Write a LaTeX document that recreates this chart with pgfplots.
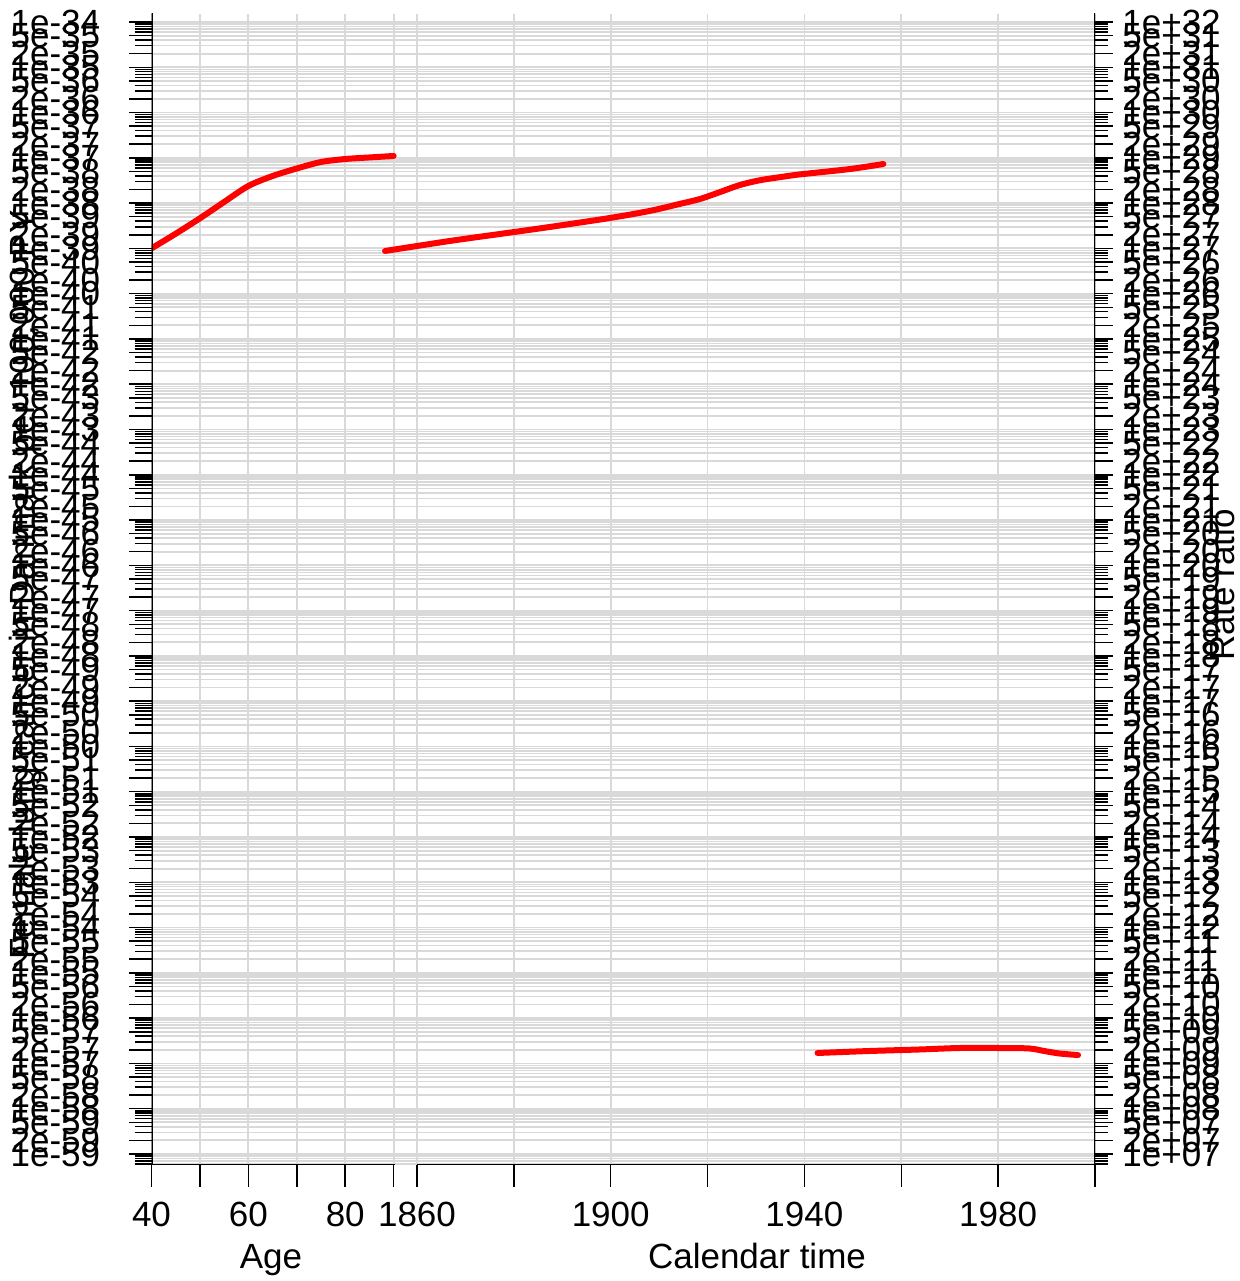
\documentclass[border=0pt]{standalone}
\usepackage{fontspec}
\setmainfont{Liberation Sans}
\usepackage{pgfplots}
\pgfplotsset{compat=1.18}
\pgfplotsset{set layers}

% tick lists (1,2,5 per decade labelled; 3,4,6,7,8,9 minor)
\def\Ymaj{1e-34}\def\Ylab{1e-34}\def\Rmaj{1e32}\def\Rlab{1e+32}
\def\Ymn{9e-60,8e-60,7e-60,6e-60}\def\Rmn{9e6,8e6,7e6,6e6}
\foreach \k in {35,...,59}{%
  \pgfmathtruncatemacro\rx{66-\k}%
  \ifnum\rx<10 \xdef\rr{0\rx}\else\xdef\rr{\rx}\fi
  \xdef\Ymaj{\Ymaj,5e-\k,2e-\k,1e-\k}%
  \xdef\Ylab{\Ylab,5e-\k,2e-\k,1e-\k}%
  \xdef\Ymn{\Ymn,9e-\k,8e-\k,7e-\k,6e-\k,4e-\k,3e-\k}%
  \xdef\Rmaj{\Rmaj,5e\rx,2e\rx,1e\rx}%
  \xdef\Rlab{\Rlab,5e+\rr,2e+\rr,1e+\rr}%
  \xdef\Rmn{\Rmn,9e\rx,8e\rx,7e\rx,6e\rx,4e\rx,3e\rx}%
}

\begin{document}
\begin{tikzpicture}
\path (0,0) rectangle (619.5pt,640.5pt);

% Age axis (left scale: rates)
\begin{axis}[
  ymode=log, log basis y=10,
  at={(75.75pt,58pt)}, anchor=south west, scale only axis,
  width=471.75pt, height=575.5pt,
  axis line style={draw=none},
  tick align=outside,
  tick style={black, line width=0.75pt},
  major tick length=11pt, minor tick length=8.5pt,
  tick label style={font=\fontsize{17.5}{20}\selectfont},
  major grid style={draw=gray!30, line width=0.9pt},
  minor grid style={draw=gray!30, line width=0.8pt},
  xticklabel style={anchor=base, inner sep=0pt, yshift=-20pt},
  xmin=40, xmax=234.82, ymin=5.71e-60, ymax=1.503e-34,
  xtick={40,50,60,70,80,90}, xticklabels={40,,60,,80,},
  xtick pos=left, ytick pos=left,
  ytick/.expanded=\Ymaj, yticklabels/.expanded=\Ylab,
  minor ytick/.expanded=\Ymn,
  xmajorgrids, ymajorgrids, yminorgrids,
  yticklabel style={anchor=east, inner sep=0pt, xshift=-14.5pt},
]
\addplot[red, line width=3pt, smooth, line cap=round] coordinates {
 (40,1.00e-39) (45,2.11e-39) (50,4.62e-39) (55,1.06e-38) (60,2.39e-38)
 (65,3.97e-38) (70,5.82e-38) (75,8.09e-38) (80,9.42e-38) (85,1.02e-37) (90,1.10e-37)
};
\draw[line width=1pt, line cap=rect] (rel axis cs:0,0) -- (rel axis cs:0,1);
\draw[line width=1pt, line cap=rect] (axis cs:40,5.71e-60) -- (axis cs:90,5.71e-60);
\end{axis}

% Calendar time axis (left scale: cohort)
\begin{axis}[
  ymode=log, log basis y=10,
  at={(75.75pt,58pt)}, anchor=south west, scale only axis,
  width=471.75pt, height=575.5pt,
  axis line style={draw=none},
  tick align=outside,
  tick style={black, line width=0.75pt},
  major tick length=11pt, minor tick length=8.5pt,
  tick label style={font=\fontsize{17.5}{20}\selectfont},
  major grid style={draw=gray!30, line width=0.9pt},
  xticklabel style={anchor=base, inner sep=0pt, yshift=-20pt},
  xmin=1805.18, xmax=2000, ymin=5.71e-60, ymax=1.503e-34,
  xtick={1860,1880,1900,1920,1940,1960,1980,2000},
  xticklabels={1860,,1900,,1940,,1980,},
  xtick pos=left, ytick=\empty,
  xmajorgrids,
]
\addplot[red, line width=3pt, smooth, line cap=round] coordinates {
 (1853.4,8.77e-40) (1866.8,1.46e-39) (1877.1,2.08e-39) (1887.4,2.97e-39)
 (1899.8,4.69e-39) (1908.0,6.70e-39) (1914.2,9.57e-39) (1918.4,1.23e-38)
 (1922.6,1.76e-38) (1926.6,2.50e-38) (1930.8,3.20e-38) (1935.0,3.75e-38)
 (1939.0,4.30e-38) (1949.4,5.66e-38) (1956.3,7.31e-38)
};
\draw[line width=1pt] (axis cs:1860,5.71e-60) -- (axis cs:2000,5.71e-60);
\end{axis}

% Calendar time axis (right scale: rate ratio)
\begin{axis}[
  ymode=log, log basis y=10,
  at={(75.75pt,58pt)}, anchor=south west, scale only axis,
  width=471.75pt, height=575.5pt,
  axis line style={draw=none},
  tick align=outside,
  tick style={black, line width=0.75pt},
  major tick length=9pt, minor tick length=6.5pt,
  tick label style={font=\fontsize{17.5}{20}\selectfont},
  xmin=1805.18, xmax=2000, ymin=5.71e6, ymax=1.503e32,
  xtick=\empty, ytick pos=right,
  ytick/.expanded=\Rmaj, yticklabels/.expanded=\Rlab,
  minor ytick/.expanded=\Rmn,
  yticklabel style={anchor=west, inner sep=0pt, xshift=4.5pt},
]
\addplot[red, line width=3pt, smooth, line cap=round] coordinates {
 (1942.7,1.70e9) (1953.4,1.88e9) (1963.7,2.03e9) (1972.0,2.19e9)
 (1980.2,2.19e9) (1986.4,2.14e9) (1989.5,1.88e9) (1992.6,1.66e9) (1996.5,1.53e9)
};
\draw[line width=1pt, line cap=rect] (rel axis cs:1,0) -- (rel axis cs:1,1);
\end{axis}

\node[anchor=base, inner sep=0pt, font=\fontsize{17.5}{20}\selectfont] at (135.5pt,6pt) {Age};
\node[anchor=base, inner sep=0pt, font=\fontsize{17.5}{20}\selectfont] at (378.5pt,6pt) {Calendar time};
\node[rotate=90, inner sep=0pt, font=\fontsize{17.5}{20}\selectfont] at (12.5pt,348pt) {Female lung cancer in Danmark per 100,000 PY};
\node[rotate=90, inner sep=0pt, font=\fontsize{17.5}{20}\selectfont] at (611pt,348pt) {Rate ratio};
\end{tikzpicture}
\end{document}
